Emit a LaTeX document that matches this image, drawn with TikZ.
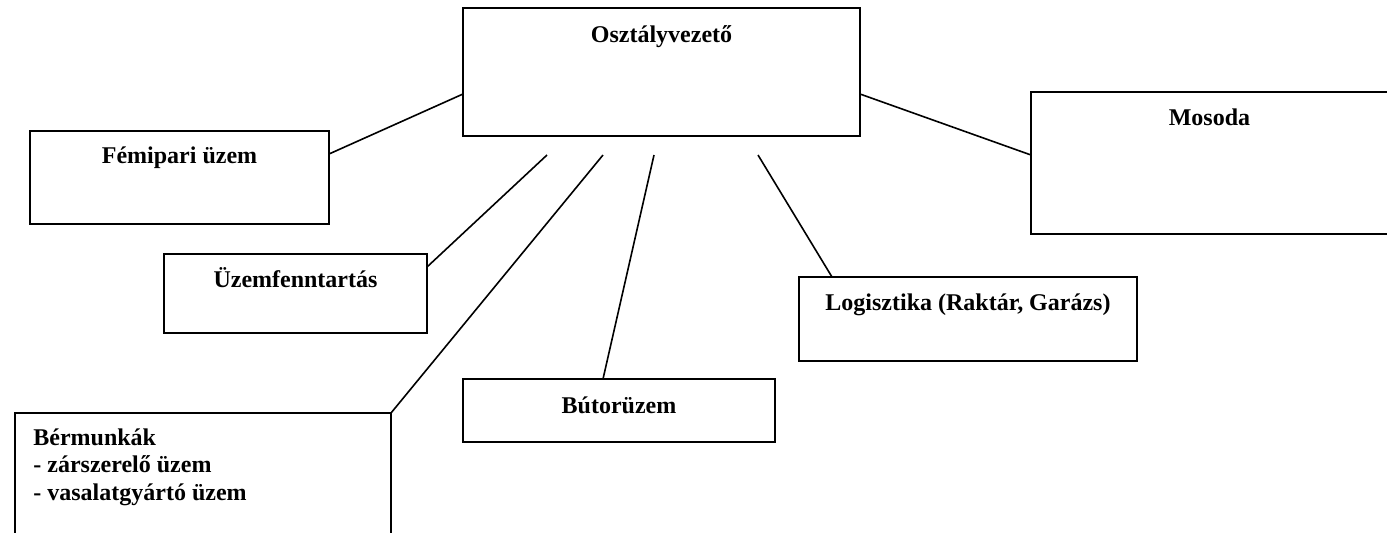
\documentclass[tikz,border=0pt]{standalone}
\usepackage{fontspec}
\setmainfont{Liberation Serif}
\usetikzlibrary{calc}
\begin{document}
\begin{tikzpicture}[x=0.5pt,y=-0.5pt,
  box/.style={draw, line width=1pt, rectangle, inner sep=0pt, outer sep=0pt, anchor=north west},
  lbl/.style={font=\bfseries\fontsize{12}{14}\selectfont, inner sep=0pt, anchor=base},
  lbll/.style={lbl, anchor=base west},
  conn/.style={line width=0.8pt}]
\useasboundingbox (0,0) rectangle (1387,532);
\clip (0,0) rectangle (1387,532);
% boxes
\node[box, minimum width=198.5pt, minimum height=64pt] (top) at (463,8) {};
\node[box, minimum width=200pt, minimum height=71pt] (mos) at (1031,92) {};
\node[box, minimum width=149.5pt, minimum height=46.5pt] (fem) at (30,131) {};
\node[box, minimum width=131.5pt, minimum height=39.5pt] (uzf) at (164,254) {};
\node[box, minimum width=169pt, minimum height=42pt] (log) at (799,277) {};
\node[box, minimum width=156pt, minimum height=31.5pt] (but) at (463,379) {};
\node[box, minimum width=188pt, minimum height=70pt] (ber) at (15,413) {};
% labels
\node[lbl] (ttop) at ($(top.north)+(0,34)$) {Osztályvezető};
\node[lbl] (tmos) at (1209.5,125) {Mosoda};
\node[lbl] (tfem) at (179.5,163) {Fémipari üzem};
\node[lbl] (tuzf) at ($(uzf.north)+(0,33)$) {Üzemfenntartás};
\node[lbl] (tlog) at ($(log.north)+(0,33)$) {Logisztika (Raktár, Garázs)};
\node[lbl] (tbut) at ($(but.north)+(0,34)$) {Bútorüzem};
\node[lbll] (tber1) at (33,445) {Bérmunkák};
\node[lbll] (tber2) at (33,472) {- zárszerelő üzem};
\node[lbll] (tber3) at (33,500) {- vasalatgyártó üzem};
% free ends
\coordinate (e1) at (547,155);
\coordinate (e2) at (603,155);
\coordinate (e3) at (654,155);
\coordinate (e4) at (758,155);
% connectors
\draw[conn] ($(fem.north east)+(0,23)$) -- ($(top.north west)+(0,86)$);
\draw[conn] ($(top.north east)+(0,86)$) -- ($(mos.north west)+(0,63)$);
\draw[conn] ($(uzf.north east)+(0,13)$) -- (e1);
\draw[conn] (ber.north east) -- (e2);
\draw[conn] ($(but.north west)+(140,0)$) -- (e3);
\draw[conn] ($(log.north west)+(33,0)$) -- (e4);
\end{tikzpicture}
\end{document}
